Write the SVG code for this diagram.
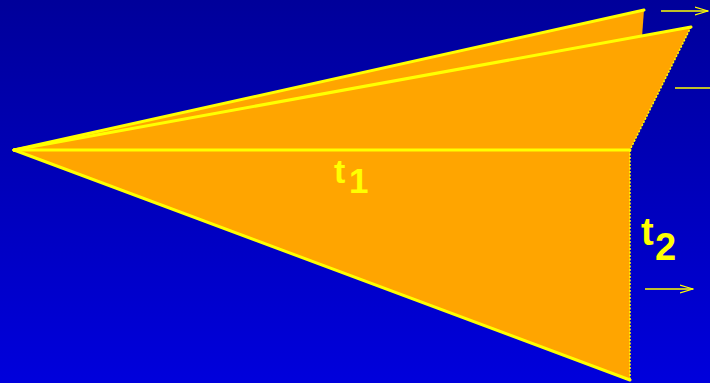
<svg xmlns="http://www.w3.org/2000/svg" width="710" height="383" viewBox="0 0 710 383">
<defs>
<linearGradient id="bg" x1="0" y1="0" x2="0" y2="1">
<stop offset="0" stop-color="#00009A"/>
<stop offset="1" stop-color="#0000DC"/>
</linearGradient>
<marker id="ah" viewBox="0 0 14 10" refX="13" refY="5" markerWidth="14" markerHeight="10" markerUnits="userSpaceOnUse" orient="auto">
<path d="M0,1 L13,5 L0,9" fill="none" stroke="#FFFF00" stroke-width="1.3"/>
</marker>
<style>
.fill{fill:#FFA500;stroke:none}
.edge{stroke:#FFFF00;stroke-width:3;fill:none;stroke-linecap:round}
.dot{stroke:#FFFF00;stroke-width:1.5;fill:none;stroke-dasharray:2 1.5}
.arr{stroke:#FFFF00;stroke-width:1.5;fill:none}
.lbl{font-family:"Liberation Sans",Arial,sans-serif;font-weight:bold;fill:#FFFF00}
</style>
</defs>
<rect width="710" height="383" fill="url(#bg)"/>
<g id="back-flap">
<polygon class="fill" points="14,150 644,10 642,37"/>
<line class="edge" x1="14" y1="150" x2="644" y2="10"/>
</g>
<g id="front-flap">
<polygon class="fill" points="14,150 691,27 630,150"/>
<line class="edge" x1="14" y1="150" x2="691" y2="27"/>
<line class="dot" x1="691" y1="27" x2="630" y2="150"/>
</g>
<g id="lower-flap">
<polygon class="fill" points="14,150 630,150 630,380"/>
<line class="edge" x1="14" y1="150" x2="630" y2="380"/>
<line class="dot" x1="630" y1="150" x2="630" y2="381"/>
<line class="edge" x1="14" y1="150" x2="630" y2="150"/>
</g>
<g id="connectors">
<line class="arr" x1="661" y1="11" x2="708" y2="11" marker-end="url(#ah)"/>
<line class="arr" x1="675" y1="88" x2="712" y2="88"/>
<line class="arr" x1="645" y1="289" x2="693" y2="289" marker-end="url(#ah)"/>
</g>
<g id="label-t1">
<text class="lbl" x="334" y="183" font-size="34">t</text>
<text class="lbl" x="349" y="193" font-size="35">1</text>
</g>
<g id="label-t2">
<text class="lbl" x="641" y="245" font-size="38">t</text>
<text class="lbl" x="655" y="260" font-size="38">2</text>
</g>
</svg>
